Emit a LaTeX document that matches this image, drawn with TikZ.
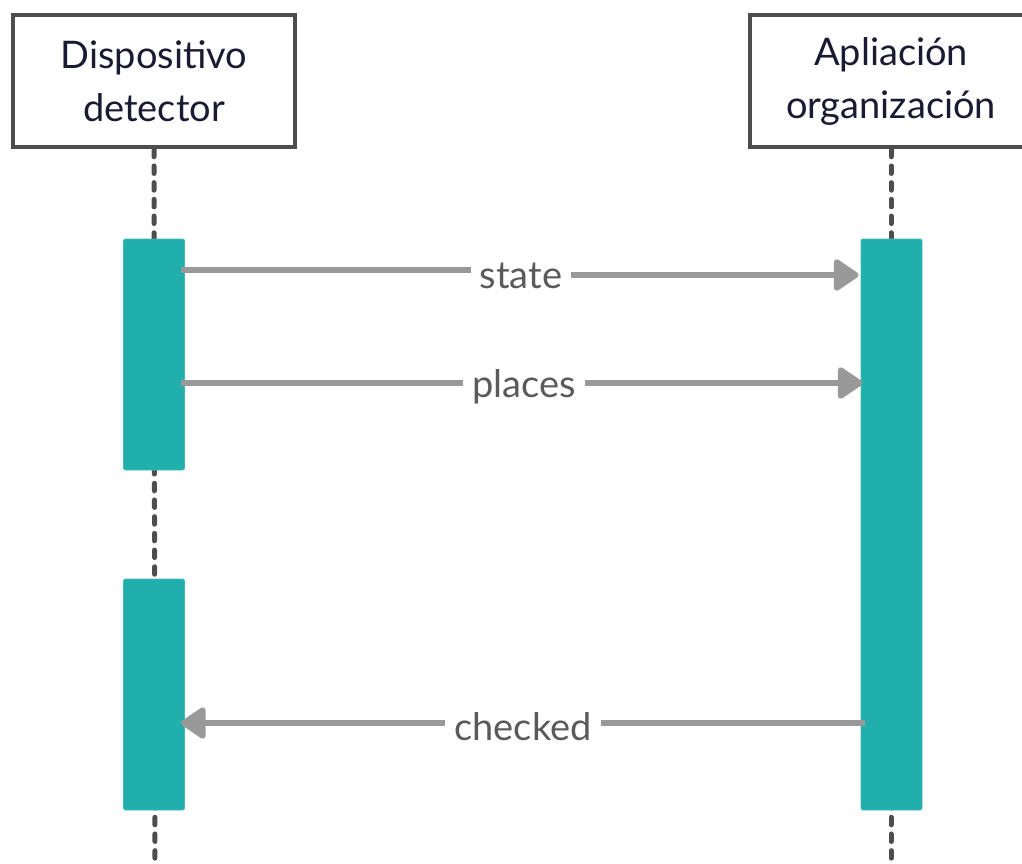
\documentclass[tikz,border=0pt]{standalone}
\usepackage{fontspec}
\setmainfont{Lato}
\usetikzlibrary{arrows.meta}
\definecolor{boxline}{RGB}{77,77,77}
\definecolor{boxtext}{RGB}{26,26,51}
\definecolor{actfill}{RGB}{33,175,171}
\definecolor{msgline}{RGB}{153,153,153}
\definecolor{msgtext}{RGB}{90,90,90}

\begin{document}
\begin{tikzpicture}[x=1pt,y=-1pt,
  actor/.style={rectangle,draw=boxline,line width=4.5pt,fill=white,minimum width=282pt,minimum height=132pt,align=center,text=boxtext,font=\fontsize{38}{53}\selectfont},
  activation/.style={rectangle,draw=actfill!85!white,line width=0.8pt,fill=actfill,rounded corners=2pt,minimum width=61pt,inner sep=0pt},
  lifeline/.style={draw=boxline,line width=5pt,line cap=round,dash pattern=on 7.5pt off 9.2pt},
  msg/.style={draw=msgline,line width=5.5pt},
  msgtip/.style={msg,-{Triangle[length=27pt,width=35pt,round]}},
  msglabel/.style={anchor=base,inner sep=9pt,text=msgtext,font=\fontsize{38}{44}\selectfont}]
\useasboundingbox (0,0) rectangle (1022,863);
\node at (154, 81) (dev) [actor] {Dispositivo\\detector};
\node at (891, 81) (app) [actor] {Apliación\\organización};
\coordinate (devEnd) at (155, 875);
\coordinate (appEnd) at (891, 875);
\draw [lifeline] (dev.south) -- (devEnd);
\draw [lifeline] (app.south) -- (appEnd);
\node at (154, 354.5) (devAct1) [activation,minimum height=231pt] {};
\node at (154, 694.5) (devAct2) [activation,minimum height=231pt] {};
\node at (891.5, 524.5) (appAct) [activation,minimum height=571pt] {};
% message labels
\node at (521, 288) (lblState) [msglabel] {state};
\node at (524, 397) (lblPlaces) [msglabel] {places};
\node at (523, 740) (lblChecked) [msglabel] {checked};
\coordinate (yState) at (0, 270);
\coordinate (yStateR) at (0, 275);
\coordinate (yPlaces) at (0, 383);
\coordinate (yChecked) at (0, 723);
% messages
\draw [msg] ([xshift=-4pt]devAct1.east |- yState) -- (lblState.west |- yState);
\draw [msgtip] (lblState.east |- yStateR) -- ([xshift=-2pt]appAct.west |- yStateR);
\draw [msg] ([xshift=-4pt]devAct1.east |- yPlaces) -- (lblPlaces.west |- yPlaces);
\draw [msgtip] (lblPlaces.east |- yPlaces) -- ([xshift=2pt]appAct.west |- yPlaces);
\draw [msg] ([xshift=4pt]appAct.west |- yChecked) -- (lblChecked.east |- yChecked);
\draw [msgtip] (lblChecked.west |- yChecked) -- ([xshift=-4pt]devAct2.east |- yChecked);
\end{tikzpicture}
\end{document}
